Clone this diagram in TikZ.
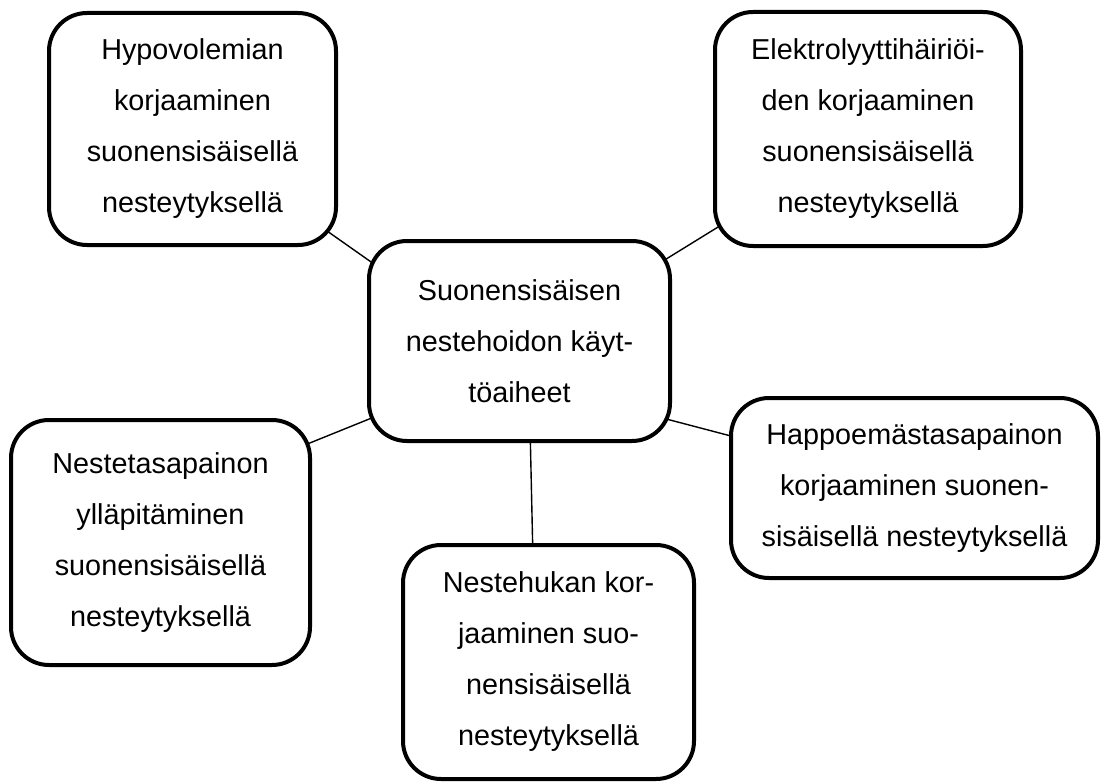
\documentclass[tikz,border=0pt]{standalone}
\usepackage{fontspec}
\setmainfont{Liberation Sans}
\usetikzlibrary{calc,backgrounds}
\begin{document}
\begin{tikzpicture}[x=1pt,y=-1pt,
  boxnode/.style={draw=black, line width=4pt, rounded corners=38pt, fill=white,
    align=center, inner sep=0pt, outer sep=0pt,
    font=\fontsize{28.8}{51}\selectfont},
  link/.style={draw=black, line width=1.4pt}]
\useasboundingbox (0,0) rectangle (1103,784);
\node[boxnode, minimum width=287pt, minimum height=232pt] (tl) at (192.5,129)
  {Hypovolemian\\korjaaminen\\suonensisäisellä\\nesteytyksellä};
\node[boxnode, minimum width=306pt, minimum height=234pt] (tr) at (868,129)
  {Elektrolyyttihäiriöi-\\den korjaaminen\\suonensisäisellä\\nesteytyksellä};
\node[boxnode, minimum width=301pt, minimum height=200pt] (ce) at (519.5,341)
  {Suonensisäisen\\nestehoidon käyt-\\töaiheet};
\node[boxnode, minimum width=299pt, minimum height=245pt] (le) at (160.5,542.5)
  {Nestetasapainon\\ylläpitäminen\\suonensisäisellä\\nesteytyksellä};
\node[boxnode, minimum width=291pt, minimum height=234pt] (bo) at (548.5,662)
  {Nestehukan kor-\\jaaminen suo-\\nensisäisellä\\nesteytyksellä};
\node[boxnode, minimum width=367pt, minimum height=180pt] (ri) at (914.5,488)
  {Happoemästasapainon\\korjaaminen suonen-\\sisäisellä nesteytyksellä};
\begin{scope}[on background layer]
  \draw[link] ($(tl.south east)+(-26,-26)$) -- ($(ce.north west)+(22,35)$);
  \draw[link] ($(tr.south west)+(29,-35)$) -- ($(ce.north east)+(-20,28)$);
  \draw[link] ($(ce.south west)+(20,-30)$) -- ($(le.north east)+(-20,31)$);
  \draw[link] ($(ce.south east)+(-19,-26)$) -- ($(ri.north west)+(19,43)$);
  \draw[link] ($(ce.south)+(10.5,-16)$) -- ($(bo.north)+(-15.5,15)$);
\end{scope}
\end{tikzpicture}
\end{document}
